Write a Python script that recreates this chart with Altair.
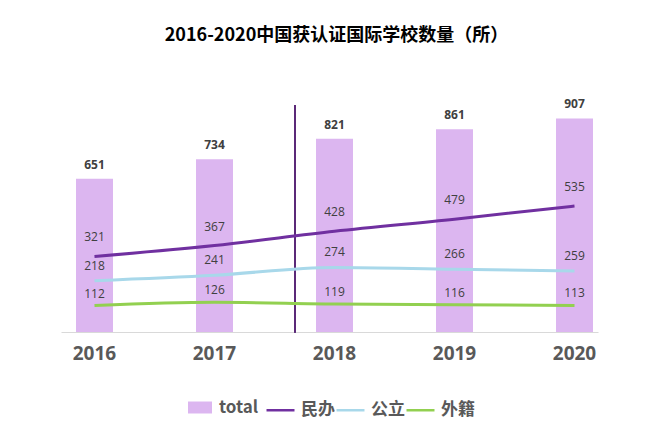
import altair as alt
import pandas as pd

years = ["2016", "2017", "2018", "2019", "2020"]
total = [651, 734, 821, 861, 907]
minban = [321, 367, 428, 479, 535]
gongli = [218, 241, 274, 266, 259]
waiji = [112, 126, 119, 116, 113]

series_names = ["民办", "公立", "外籍"]
series_values = [minban, gongli, waiji]
series_colors = ["#7030a0", "#a8d8ea", "#92d050"]
label_dy = [-19, -15, -12]

bar_df = pd.DataFrame({"year": years, "value": total, "series": ["total"] * len(years)})
line_rows = []
for name, vals in zip(series_names, series_values):
    for y, v in zip(years, vals):
        line_rows.append({"year": y, "value": v, "series": name})
line_df = pd.DataFrame(line_rows)

xscale = alt.Scale(paddingInner=0.6917, paddingOuter=0.0833, align=0.75)
yscale = alt.Scale(domain=[0, 1000])

x_enc = alt.X("year:N", scale=xscale, sort=years,
              axis=alt.Axis(title=None, labelAngle=0, ticks=False, grid=False,
                            domainColor="#d9d9d9", labelFontSize=19, labelFontWeight="bold",
                            labelColor="#595959", labelFont="Open Sans", labelPadding=12))
y_enc = alt.Y("value:Q", scale=yscale, axis=None)

bars = alt.Chart(bar_df).mark_bar(color="#dcb6f0").encode(
    x=x_enc, y=y_enc,
    fill=alt.Fill("series:N", scale=alt.Scale(domain=["total"], range=["#dcb6f0"]),
                  legend=alt.Legend(title=None, orient="none", legendX=127, legendY=299,
                                    symbolType="M-1,-0.5H1V0.5H-1Z", symbolSize=576,
                                    symbolStrokeWidth=0, labelFontSize=17,
                                    labelFont="Noto Sans CJK SC", labelFontWeight="bold",
                                    labelColor="#595959", labelOffset=7, padding=0))
)

bar_labels = alt.Chart(bar_df).mark_text(dy=-14, fontSize=12, fontWeight="bold",
                                         font="Open Sans", color="#404040", baseline="middle").encode(
    x=alt.X("year:N", sort=years), y="value:Q", text="value:Q")

vline = alt.Chart(bar_df).mark_rule(color="#5b2a78", strokeWidth=1.5).encode(
    x=alt.value(234), y=alt.value(8.5), y2=alt.value(236))

lines = alt.Chart(line_df).mark_line(strokeWidth=3, interpolate="monotone").encode(
    x=alt.X("year:N", sort=years), y="value:Q",
    stroke=alt.Stroke("series:N", sort=series_names,
                      scale=alt.Scale(domain=series_names, range=series_colors),
                      legend=alt.Legend(title=None, orient="none", legendX=204, legendY=298,
                                        direction="horizontal", symbolType="stroke",
                                        symbolSize=784, symbolStrokeWidth=2.5,
                                        labelFontSize=17, labelFont="Noto Sans CJK SC",
                                        labelFontWeight="bold", labelColor="#595959",
                                        labelOffset=5, columnPadding=-10, padding=0)),
    detail="series:N")

line_label_layers = []
for name, dy in zip(series_names, label_dy):
    line_label_layers.append(
        alt.Chart(line_df).transform_filter(alt.datum.series == name).mark_text(
            dy=dy, fontSize=12, font="Open Sans", color="#404040", baseline="middle").encode(
            x=alt.X("year:N", sort=years), y="value:Q", text="value:Q"))

chart = alt.layer(bars, vline, lines, bar_labels, *line_label_layers).properties(
    width=537, height=235.5,
    title=alt.TitleParams("2016-2020中国获认证国际学校数量（所）", fontSize=18,
                          font="Noto Sans CJK SC", fontWeight="bold", color="#000000",
                          anchor="middle", baseline="alphabetic", offset=38, dx=7),
    autosize=alt.AutoSizeParams(type="none"),
    padding={"left": 53, "top": 88.5, "right": 54, "bottom": 92},
).configure_view(stroke=None).resolve_scale(fill="independent", stroke="independent")

chart.save("out.html", embed_options={"renderer": "svg", "actions": False})
